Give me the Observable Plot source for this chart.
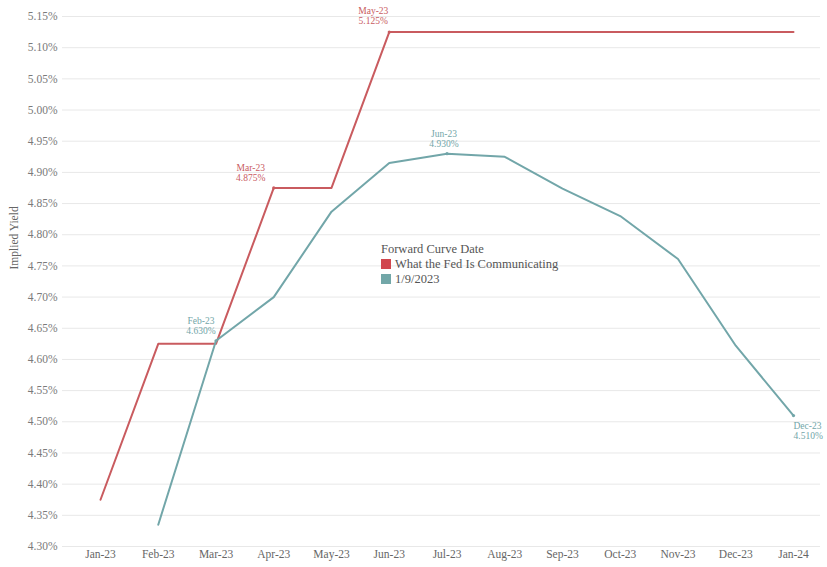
<!DOCTYPE html>
<html><head><meta charset="utf-8">
<script src="https://cdn.jsdelivr.net/npm/d3@7"></script>
<script src="https://cdn.jsdelivr.net/npm/@observablehq/plot@0.6"></script>
<style>
body{margin:0;background:#fff;}
#wrap{position:relative;width:827px;height:567px;font-family:"Liberation Serif","DejaVu Serif",serif;}
#legend{position:absolute;left:381px;top:242px;font-size:12.5px;color:#555;line-height:15px;}
#legend .sw{display:inline-block;width:10px;height:10px;margin-right:4px;vertical-align:-1px;}
</style></head><body><div id="wrap"><div id="legend"></div></div>
<script>
const months = ["Jan-23","Feb-23","Mar-23","Apr-23","May-23","Jun-23","Jul-23","Aug-23","Sep-23","Oct-23","Nov-23","Dec-23","Jan-24"];
const fedValues = [4.375,4.625,4.625,4.875,4.875,5.125,5.125,5.125,5.125,5.125,5.125,5.125,5.125];
const curveMonths = ["Feb-23","Mar-23","Apr-23","May-23","Jun-23","Jul-23","Aug-23","Sep-23","Oct-23","Nov-23","Dec-23","Jan-24"];
const curveValues = [4.335,4.630,4.700,4.837,4.915,4.930,4.925,4.874,4.830,4.761,4.622,4.510];
const seriesNames = ["What the Fed Is Communicating","1/9/2023"];
const seriesColors = ["#c95b5f","#72a6a9"];
const legendColors = ["#d1474f","#72a7a8"];
const legendTitle = "Forward Curve Date";
const yTicks = [4.30,4.35,4.40,4.45,4.50,4.55,4.60,4.65,4.70,4.75,4.80,4.85,4.90,4.95,5.00,5.05,5.10,5.15];
const yLabel = "Implied Yield";
// annotations: [x month, value, text]
const fedAnnMonths = ["Apr-23","Jun-23"];
const fedAnnValues = [4.875,5.125];
const fedAnnTexts = ["Mar-23\n4.875%","May-23\n5.125%"];
const curveAnnMonths = ["Mar-23","Jul-23","Jan-24"];
const curveAnnValues = [4.630,4.930,4.510];
const curveAnnTexts = ["Feb-23\n4.630%","Jun-23\n4.930%","Dec-23\n4.510%"];

const fed = months.map((m,i)=>({m, v: fedValues[i]}));
const curve = curveMonths.map((m,i)=>({m, v: curveValues[i]}));
const fedAnn = fedAnnMonths.map((m,i)=>({m, v: fedAnnValues[i], t: fedAnnTexts[i]}));
const curveAnn = curveAnnMonths.map((m,i)=>({m, v: curveAnnValues[i], t: curveAnnTexts[i]}));

const annFont = {fontSize: 9.5, lineHeight: 1.05, lineAnchor: "bottom"};
const chart = Plot.plot({
  width: 827, height: 567,
  marginLeft: 62, marginRight: 7, marginTop: 16, marginBottom: 21,
  style: {fontFamily: '"Liberation Serif","DejaVu Serif",serif', background: "#fff"},
  x: {type: "point", domain: months, range: [100, 793], padding: 0, round: false},
  y: {domain: [4.30, 5.15]},
  marks: [
    Plot.gridY(yTicks, {stroke: "#e8e8e8", strokeOpacity: 1}),
    Plot.axisY(yTicks, {tickSize: 0, tickPadding: 5, tickFormat: d => d.toFixed(2) + "%", fill: "#7a7a7a", fontSize: 11.5, label: null}),
    Plot.axisX({tickSize: 0, tickPadding: 3, fill: "#666", fontSize: 11.5, label: null}),
    Plot.text([yLabel], {frameAnchor: "left", rotate: -90, dx: -48, dy: -12, fill: "#666", fontSize: 11.5}),
    Plot.line(fed, {x: "m", y: "v", stroke: seriesColors[0], strokeWidth: 2}),
    Plot.line(curve, {x: "m", y: "v", stroke: seriesColors[1], strokeWidth: 2}),
    Plot.dot(curveAnn, {x: "m", y: "v", r: 1.6, fill: seriesColors[1]}),
    Plot.dot(fedAnn, {x: "m", y: "v", r: 1.6, fill: seriesColors[0]}),
    Plot.text([fedAnn[0]], {x: "m", y: "v", text: "t", fill: seriesColors[0], dx: -23, dy: -7, ...annFont}),
    Plot.text([fedAnn[1]], {x: "m", y: "v", text: "t", fill: seriesColors[0], dx: -16, dy: -8, ...annFont}),
    Plot.text([curveAnn[0]], {x: "m", y: "v", text: "t", fill: seriesColors[1], dx: -15, dy: -7, ...annFont}),
    Plot.text([curveAnn[1]], {x: "m", y: "v", text: "t", fill: seriesColors[1], dx: -3, dy: -7, ...annFont}),
    Plot.text([curveAnn[2]], {x: "m", y: "v", text: "t", fill: seriesColors[1], dx: 0, dy: 6, textAnchor: "start", fontSize: 9.5, lineHeight: 1.05, lineAnchor: "top"})
  ]
});
const wrap = document.getElementById("wrap");
wrap.insertBefore(chart, wrap.firstChild);
const lg = document.getElementById("legend");
let html = `<div>${legendTitle}</div>`;
seriesNames.forEach((n,i)=>{ html += `<div><span class="sw" style="background:${legendColors[i]}"></span>${n}</div>`; });
lg.innerHTML = html;
</script>
</body></html>
